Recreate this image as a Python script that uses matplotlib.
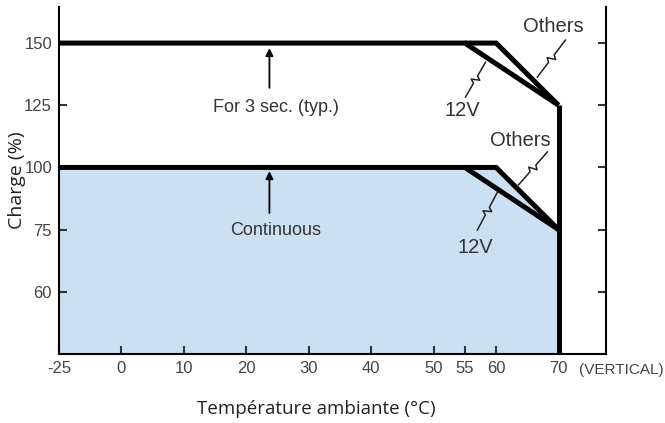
import numpy as np
import matplotlib
matplotlib.use("Agg")
import matplotlib.pyplot as plt
from matplotlib.transforms import IdentityTransform

# derating curve data
x_ticks = [-25, 0, 10, 20, 30, 40, 50, 55, 60, 70]
y_ticks = [60, 75, 100, 125, 150]

peak_12v_x = [-25, 55, 70]
peak_12v_y = [150, 150, 125]
peak_oth_x = [55, 60, 70]
peak_oth_y = [150, 150, 125]

cont_12v_x = [-25, 55, 70]
cont_12v_y = [100, 100, 75]
cont_oth_x = [55, 60, 70]
cont_oth_y = [100, 100, 75]

fill_x = [-25, -25, 60, 70, 70]
fill_y = [50, 100, 100, 75, 50]

vert_x = [70, 70]
vert_y = [125, 50]

# broken / uneven axis scales as in the original drawing
y_vals = [50, 60, 75, 100, 125, 150, 175]
y_idx = [0, 1, 2, 3, 4, 5, 6]


def y_fwd(v):
    return np.interp(v, y_vals, y_idx)


def y_inv(i):
    return np.interp(i, y_idx, y_vals)


def x_fwd(t):
    t = np.asarray(t, dtype=float)
    return np.where(t < 0, t * 0.4, t)


def x_inv(p):
    p = np.asarray(p, dtype=float)
    return np.where(p < 0, p / 0.4, p)


fig = plt.figure(figsize=(6.65, 4.23), dpi=100)
ax = fig.add_axes([59 / 665, 1 - 354 / 423, 547 / 665, 347 / 423])
ax.set_xscale("function", functions=(x_fwd, x_inv))
ax.set_yscale("function", functions=(y_fwd, y_inv))
ax.set_xlim(-25, 77.6)
ax.set_ylim(50, 164.5)

ax.fill(fill_x, fill_y, color="#cce0f3", lw=0, zorder=1)

lw = 3.6
for xs, ys in [(peak_12v_x, peak_12v_y), (peak_oth_x, peak_oth_y),
               (cont_12v_x, cont_12v_y), (cont_oth_x, cont_oth_y),
               (vert_x, vert_y)]:
    ax.plot(xs, ys, color="black", lw=lw, solid_joinstyle="miter",
            solid_capstyle="butt", zorder=3)

ax.spines["top"].set_visible(False)
for s in ["left", "right", "bottom"]:
    ax.spines[s].set_linewidth(1.5)

tick_font = dict(family="Liberation Sans", size=12, color="#444444")
ax.set_xticks(x_ticks)
ax.set_xticklabels([str(v) for v in x_ticks], **tick_font)
ax.set_yticks(y_ticks)
ax.set_yticklabels([str(v) for v in y_ticks], **tick_font)
ax.xaxis.set_minor_locator(matplotlib.ticker.NullLocator())
ax.yaxis.set_minor_locator(matplotlib.ticker.NullLocator())
ax.tick_params(axis="both", direction="in", length=6, width=1.5,
               color="#333333", pad=5)
ax.tick_params(axis="y", right=True, labelright=False)

ax.text(1.028, -0.026, "(VERTICAL)", transform=ax.transAxes, ha="center",
        va="top", family="Liberation Sans", size=11, color="#444444")

ax.set_xlabel("Température ambiante (°C)", family="Open Sans", size=13.5,
              color="#222222")
ax.xaxis.set_label_coords(0.47, -0.132)
ax.set_ylabel("Charge (%)", family="Open Sans", size=14, color="#222222")
ax.yaxis.set_label_coords(-0.06, 0.5)

note_font = dict(family="Liberation Sans", size=13, color="#333333",
                 ha="center", va="center")
ax.annotate("", xy=(23.7, 148), xytext=(23.7, 132),
            arrowprops=dict(arrowstyle="-|>", lw=1.3, color="black",
                            mutation_scale=11, shrinkA=0, shrinkB=0))
ax.text(24.7, 124, "For 3 sec. (typ.)", **note_font)
ax.annotate("", xy=(23.7, 98.5), xytext=(23.7, 81.7),
            arrowprops=dict(arrowstyle="-|>", lw=1.3, color="black",
                            mutation_scale=11, shrinkA=0, shrinkB=0))
ax.text(24.7, 74.7, "Continuous", **note_font)

lab_font = dict(family="Liberation Sans", size=14.5, color="#333333",
                ha="center", va="center")
ax.text(69.2, 156.5, "Others", **lab_font)
ax.text(54.6, 123, "12V", **lab_font)
ax.text(63.9, 111, "Others", **lab_font)
ax.text(56.7, 70.8, "12V", **lab_font)


def squiggle(p0, p1):
    d0 = ax.transData.transform(p0)
    d1 = ax.transData.transform(p1)
    v = d1 - d0
    n = np.array([-v[1], v[0]]) / np.hypot(*v)
    pts = np.array([d0, d0 + 0.40 * v, d0 + 0.46 * v + 4 * n,
                    d0 + 0.54 * v - 4 * n, d0 + 0.60 * v, d1])
    ax.plot(pts[:, 0], pts[:, 1], transform=IdentityTransform(),
            color="#222222", lw=1.1, zorder=4)


squiggle((71.1, 151.2), (66.6, 136.3))
squiggle((55.1, 128.3), (58.3, 142.3))
squiggle((68.2, 106.2), (63.6, 93))
squiggle((57.0, 74.9), (60.2, 90))

fig.savefig("out.png", dpi=100)
